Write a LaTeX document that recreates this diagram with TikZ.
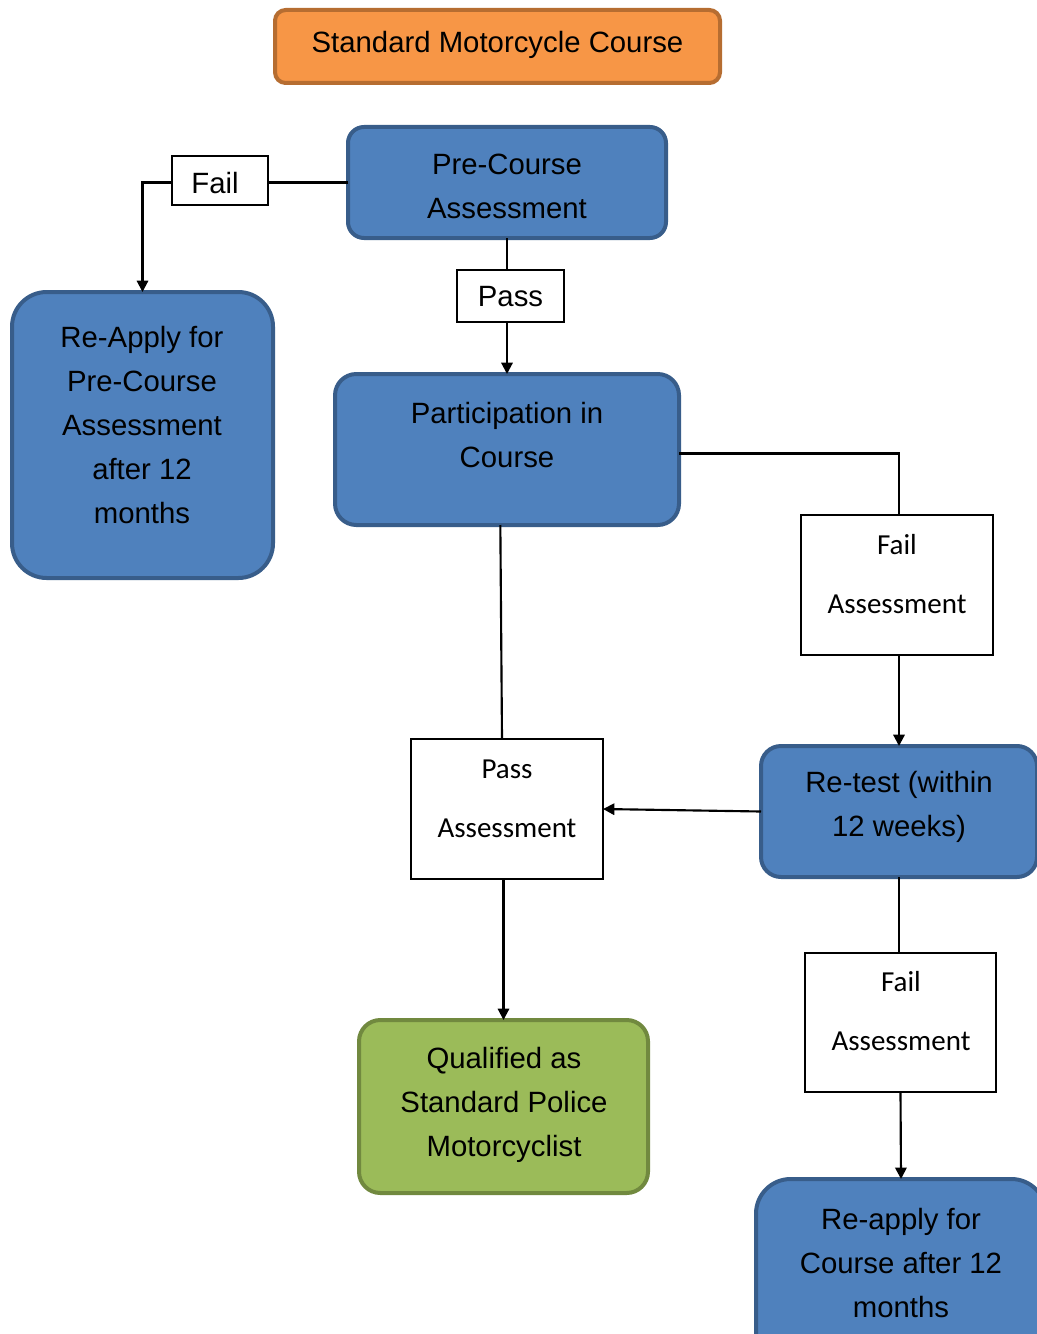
\documentclass[tikz,border=0pt]{standalone}
\usepackage{fontspec}
\setmainfont{Liberation Sans}
\newfontfamily\calib{Carlito}
\usetikzlibrary{arrows.meta}
\definecolor{bluefill}{HTML}{4F81BD}
\definecolor{blueline}{HTML}{385D8A}
\definecolor{orfill}{HTML}{F79646}
\definecolor{orline}{HTML}{B66D31}
\definecolor{grfill}{HTML}{9BBB59}
\definecolor{grline}{HTML}{71893F}
\tikzset{
  box/.style={inner sep=0pt, outer sep=0pt, line width=3pt},
  bluebox/.style={box, draw=blueline, fill=bluefill},
  orbox/.style={box, draw=orline, fill=orfill},
  grbox/.style={box, draw=grline, fill=grfill},
  wbox/.style={inner sep=0pt, outer sep=0pt, draw=black, line width=0.8pt, fill=white},
  atext/.style={inner sep=0pt, align=center, font=\fontsize{22}{33}\selectfont},
  ctext/.style={inner sep=0pt, align=center, font=\calib\fontsize{21.75}{44.25}\selectfont},
  conn/.style={line width=1.6pt, draw=black},
  arr/.style={conn, -{Triangle[length=8.5pt,width=8.5pt]}},
}
\begin{document}
\begin{tikzpicture}[x=0.75pt,y=-0.75pt]
\useasboundingbox (0,0) rectangle (1037,1334);
\clip (0,0) rectangle (1037,1334);
% boxes
\node[orbox, rounded corners=8pt, minimum width=333.75pt, minimum height=54.75pt] (title) at (497.5,46.5) {};
\node[bluebox, rounded corners=12pt, minimum width=238.5pt, minimum height=83.25pt] (pre) at (507,182.5) {};
\node[wbox, minimum width=72pt, minimum height=36.75pt] (failA) at (220,180.5) {};
\node[bluebox, rounded corners=26pt, minimum width=195.75pt, minimum height=214.5pt] (reapply) at (142.5,435) {};
\node[wbox, minimum width=80.25pt, minimum height=39pt] (passA) at (510.5,296) {};
\node[bluebox, rounded corners=16pt, minimum width=258pt, minimum height=113.25pt] (part) at (507,449.5) {};
\node[wbox, minimum width=144pt, minimum height=105pt] (failB) at (897,585) {};
\node[bluebox, rounded corners=15pt, minimum width=207pt, minimum height=98.25pt] (retest) at (899,811.5) {};
\node[wbox, minimum width=144pt, minimum height=105pt] (passB) at (507,809) {};
\node[grbox, rounded corners=16pt, minimum width=216.75pt, minimum height=129.75pt] (qual) at (503.5,1106.5) {};
\node[wbox, minimum width=143.25pt, minimum height=104.25pt] (failC) at (900.5,1022.5) {};
\node[bluebox, rounded corners=26pt, minimum width=217.5pt, minimum height=143.25pt] (recourse) at (901,1274.5) {};
% texts
\node[atext] (t-title) at (497.5,45) {Standard Motorcycle Course};
\node[atext] (t-pre) at (507,186) {Pre-Course\\Assessment};
\node[atext] (t-failA) at (215,183) {Fail};
\node[atext] (t-reapply) at (142,425) {Re-Apply for\\Pre-Course\\Assessment\\after 12\\months};
\node[atext] (t-passA) at (510.5,297) {Pass};
\node[atext] (t-part) at (507,435) {Participation in\\Course};
\node[ctext] (t-failB) at (897,574.5) {Fail\\Assessment};
\node[atext] (t-retest) at (899,807) {Re-test (within\\12 weeks)};
\node[ctext] (t-passB) at (507,798.5) {Pass\\Assessment};
\node[atext] (t-qual) at (504,1105) {Qualified as\\Standard Police\\Motorcyclist};
\node[ctext] (t-failC) at (901,1011.5) {Fail\\Assessment};
\node[atext] (t-recourse) at (901,1263) {Re-apply for\\Course after 12\\months};
% connectors
\draw[conn] (pre.west) -- (pre.west -| failA.east);
\draw[arr] (failA.west |- pre.west) -| (reapply.north);
\draw[conn] (pre.south) -- (pre.south |- passA.north);
\draw[arr] (part.north |- passA.south) -- (part.north);
\draw[conn] ([yshift=-3pt]part.east) -| ([xshift=1.5pt]failB.north);
\draw[arr] (failB.south -| retest.north) -- (retest.north);
\draw[arr] (retest.west) -- (passB.east);
\draw[conn] ([xshift=-5pt]part.south) -- ([xshift=-3.75pt]passB.north);
\draw[arr] (qual.north |- passB.south) -- (qual.north);
\draw[conn] (retest.south) -- (retest.south |- failC.north);
\draw[arr] (failC.south) -- (recourse.north);
\end{tikzpicture}
\end{document}
